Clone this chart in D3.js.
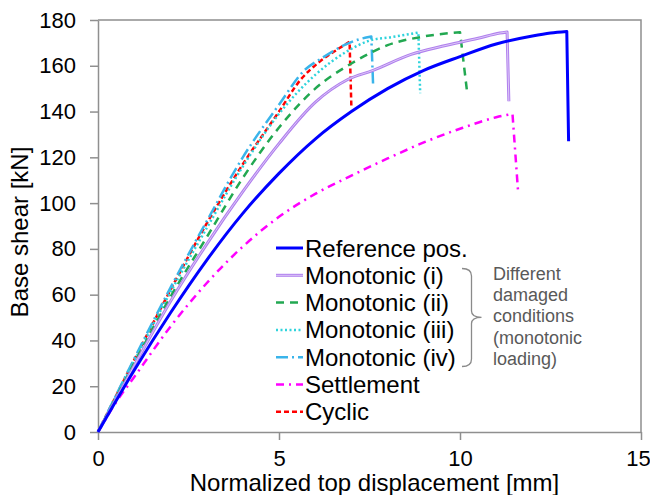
<!DOCTYPE html>
<html>
<head>
<meta charset="utf-8">
<script src="https://cdn.jsdelivr.net/npm/d3@7"></script>
<style>
  html, body { margin: 0; padding: 0; background: #fff; }
  svg { display: block; font-family: "Liberation Sans", Arial, sans-serif; }
</style>
</head>
<body>
<svg id="chart" width="650" height="495"></svg>
<script>
// Pushover curves: base shear vs. normalized top displacement.
// Each series: rising branch (disp/shear), last pair is the drop after peak.
const dispRef   = [0, 1, 2, 3, 4, 5, 6, 7, 8, 9, 10, 11, 12, 12.5, 12.95, 13.0];
const shearRef  = [0, 27, 52, 75, 95.5, 113, 128, 140, 150, 158, 164, 169.5, 173, 174.3, 175, 127];

const dispMono1  = [0, 1, 2, 3, 4, 5, 6, 6.9, 7.6, 8.65, 9.5, 10.5, 11.1, 11.3, 11.35];
const shearMono1 = [0, 29, 57, 82, 105, 126, 144, 154, 158, 165, 168.5, 172, 174.3, 174.8, 144.5];

const dispMono2  = [0, 1, 2, 3, 4, 5, 6, 7, 8, 9, 10, 10.2];
const shearMono2 = [0, 30, 59, 85, 111, 133, 150, 161, 169, 172.8, 174.7, 148];

const dispMono3  = [0, 1, 2, 3, 4, 5, 6, 6.9, 7.5, 8.1, 8.85, 8.9];
const shearMono3 = [0, 31, 61, 89, 116, 139, 156, 166.5, 171, 172.5, 174.5, 148];

const dispMono4  = [0, 1, 2, 3, 4, 5, 5.7, 6.2, 6.8, 7.2, 7.55, 7.6];
const shearMono4 = [0, 32, 63, 92, 120, 143, 158, 163.5, 169, 171.5, 172.8, 151.5];

const dispSettle  = [0, 0.5, 1, 2, 3, 4, 5, 6, 7, 8, 9, 10, 11, 11.45, 11.6];
const shearSettle = [0, 13, 24, 46, 65, 81, 94, 104, 112, 119.5, 126.5, 132.5, 137.5, 139, 106];

const dispCyclic  = [0, 1, 2, 3, 4, 5, 5.6, 6.1, 6.6, 6.95, 7.0];
const shearCyclic = [0, 31.5, 62, 91, 117, 140, 154, 161.5, 167, 170.5, 141.5];

const seriesNames = ["Reference pos.", "Monotonic (i)", "Monotonic (ii)", "Monotonic (iii)",
                     "Monotonic (iv)", "Settlement", "Cyclic"];
const xTicks = [0, 5, 10, 15];
const yTicks = [0, 20, 40, 60, 80, 100, 120, 140, 160, 180];
const bracketNote = ["Different", "damaged", "conditions", "(monotonic", "loading)"];

const series = [
  { name: seriesNames[0], x: dispRef,    y: shearRef,    color: "#0000ff", width: 3,   dash: null },
  { name: seriesNames[1], x: dispMono1,  y: shearMono1,  color: "#b07fee", width: 3,   dash: null, inner: "#dcc8f7" },
  { name: seriesNames[2], x: dispMono2,  y: shearMono2,  color: "#22a851", width: 2.5, dash: "8,6" },
  { name: seriesNames[3], x: dispMono3,  y: shearMono3,  color: "#2fd3dc", width: 2.5, dash: "2,2.5" },
  { name: seriesNames[4], x: dispMono4,  y: shearMono4,  color: "#3ab4ea", width: 2.5, dash: "12,4,2,4" },
  { name: seriesNames[5], x: dispSettle, y: shearSettle, color: "#ff00ff", width: 2.5, dash: "8,5,2,5" },
  { name: seriesNames[6], x: dispCyclic, y: shearCyclic, color: "#ff0000", width: 2.5, dash: "5,3" }
];

const svg = d3.select("#chart");
const x = d3.scaleLinear().domain([0, 15]).range([98, 641]);
const y = d3.scaleLinear().domain([0, 180]).range([432, 20]);
const axisColor = "#8f8f8f";

// plot frame (top and right edges)
svg.append("path")
  .attr("d", `M${x(0)},${y(180)}H${x(15)}V${y(0)}`)
  .attr("fill", "none").attr("stroke", axisColor).attr("stroke-width", 1.5);

// axes
const gx = svg.append("g").attr("transform", `translate(0,${y(0)})`)
  .call(d3.axisBottom(x).tickValues(xTicks).tickSize(8).tickSizeOuter(0).tickPadding(10));
const gy = svg.append("g").attr("transform", `translate(${x(0)},0)`)
  .call(d3.axisLeft(y).tickValues(yTicks).tickSize(8).tickSizeOuter(0).tickPadding(14));
[gx, gy].forEach(g => {
  g.selectAll("path, line").attr("stroke", axisColor).attr("stroke-width", 1.5);
  g.selectAll("text").attr("font-size", 22).attr("fill", "#000")
    .attr("font-family", "'Liberation Sans', Arial, sans-serif");
});
// keep the last x label inside the page edge
gx.selectAll(".tick").filter(d => d === 15).select("text").attr("dx", -3);

// axis titles
svg.append("text").attr("x", (x(0) + x(15)) / 2 + 5).attr("y", 490.5)
  .attr("text-anchor", "middle").attr("font-size", 24).attr("fill", "#000")
  .text("Normalized top displacement [mm]");
svg.append("text").attr("transform", "translate(28,232) rotate(-90)")
  .attr("text-anchor", "middle").attr("font-size", 24).attr("fill", "#000")
  .text("Base shear [kN]");

// curves: smooth rising branch, then straight drop to the last point
const rise = d3.line().x(d => x(d[0])).y(d => y(d[1])).curve(d3.curveMonotoneX);
const plot = svg.append("g");
series.slice().reverse().forEach(s => {
  const pts = s.x.map((v, i) => [v, s.y[i]]);
  const last = pts[pts.length - 1];
  const d = rise(pts.slice(0, -1)) + `L${x(last[0])},${y(last[1])}`;
  plot.append("path").attr("d", d).attr("fill", "none")
    .attr("stroke", s.color).attr("stroke-width", s.width)
    .attr("stroke-dasharray", s.dash).attr("stroke-linejoin", "round");
  if (s.inner) {
    plot.append("path").attr("d", d).attr("fill", "none")
      .attr("stroke", s.inner).attr("stroke-width", 1);
  }
});

// legend
const legend = svg.append("g");
series.forEach((s, i) => {
  const cy = 248 + i * 27.3;
  legend.append("line").attr("x1", 276).attr("x2", 303).attr("y1", cy).attr("y2", cy)
    .attr("stroke", s.color).attr("stroke-width", s.width).attr("stroke-dasharray", s.dash);
  if (s.inner) {
    legend.append("line").attr("x1", 276).attr("x2", 303).attr("y1", cy).attr("y2", cy)
      .attr("stroke", s.inner).attr("stroke-width", 1);
  }
  legend.append("text").attr("x", 305).attr("y", cy + 8.5)
    .attr("font-size", 24).attr("fill", "#000").text(s.name);
});

// brace grouping the monotonic cases
svg.append("path")
  .attr("d", "M462,268.5 C468,268.5 471.5,271 471.5,276 L471.5,311 C471.5,315 475,317.3 481.5,317.3 " +
             "C475,317.3 471.5,319.6 471.5,323.6 L471.5,359 C471.5,364 468,366.5 462,366.5")
  .attr("fill", "none").attr("stroke", "#8a8a8a").attr("stroke-width", 1.3);
const note = svg.append("text").attr("font-size", 18).attr("fill", "#595959");
bracketNote.forEach((t, i) => {
  note.append("tspan").attr("x", 493).attr("y", 280 + i * 21.2).text(t);
});
</script>
</body>
</html>
